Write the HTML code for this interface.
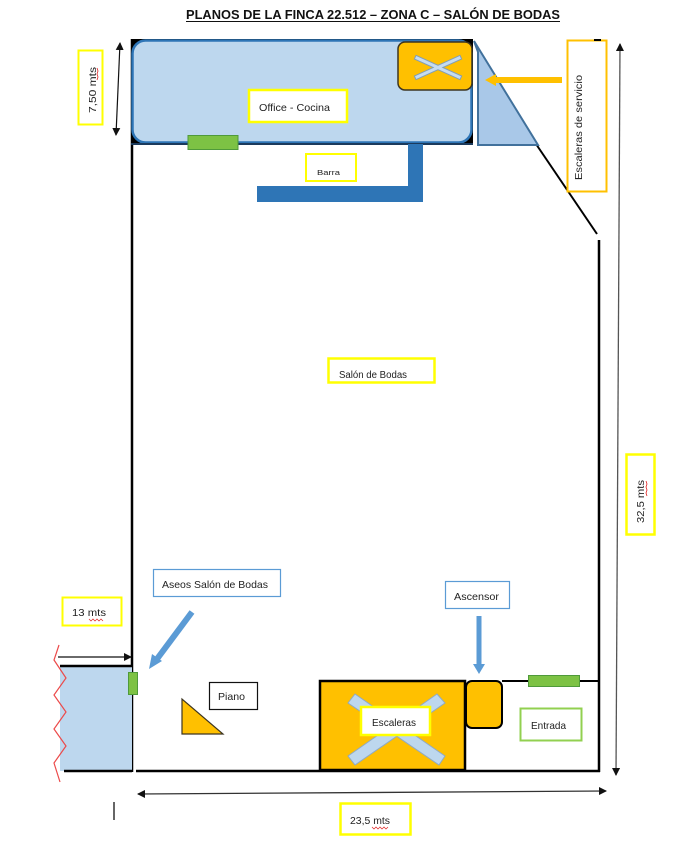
<!DOCTYPE html>
<html><head><meta charset="utf-8"><style>
html,body{margin:0;padding:0;background:#fff;}
svg{display:block;}
text{font-family:"Liberation Sans",sans-serif;fill:#222;}
</style></head><body>
<svg width="678" height="858" viewBox="0 0 678 858" xmlns="http://www.w3.org/2000/svg">
<defs>
<marker id="ah" markerWidth="8" markerHeight="8" refX="7" refY="4" orient="auto" markerUnits="userSpaceOnUse">
<path d="M0,0 L8,4 L0,8 z" fill="#111"/>
</marker>
<marker id="ahs" markerWidth="8" markerHeight="8" refX="7" refY="4" orient="auto-start-reverse" markerUnits="userSpaceOnUse">
<path d="M0,0 L8,4 L0,8 z" fill="#111"/>
</marker>
</defs>

<!-- Title -->
<text x="186" y="19" font-size="12.5" font-weight="bold" textLength="374" lengthAdjust="spacingAndGlyphs" style="fill:#111">PLANOS DE LA FINCA 22.512 – ZONA C – SALÓN DE BODAS</text>
<line x1="186" y1="21.5" x2="560" y2="21.5" stroke="#111" stroke-width="1"/>

<!-- walls -->
<line x1="132" y1="39" x2="132" y2="772" stroke="#000" stroke-width="2.5"/>
<line x1="136" y1="771" x2="600" y2="771" stroke="#000" stroke-width="2.5"/>
<line x1="599" y1="240" x2="599" y2="772" stroke="#000" stroke-width="2.5"/>
<line x1="536" y1="144" x2="597" y2="234" stroke="#000" stroke-width="2"/>

<!-- office -->
<rect x="131" y="39" width="342" height="105" fill="#000" />
<rect x="132.5" y="40.5" width="339" height="102" rx="13" fill="#bdd7ee" stroke="#2e75b6" stroke-width="2.5"/>
<line x1="131" y1="144" x2="473" y2="144" stroke="#1b3a5c" stroke-width="2"/>

<!-- service stairs triangle -->
<polygon points="474,41 538,145 478,145 478,52" fill="#a9c8e8" stroke="#41719c" stroke-width="2"/>

<!-- orange box with X -->
<rect x="398" y="42" width="74" height="48" rx="7" fill="#ffc000" stroke="#3d3520" stroke-width="1.5"/>
<line x1="417" y1="58" x2="459" y2="77" stroke="#7f9db8" stroke-width="5" stroke-linecap="square"/>
<line x1="417" y1="77" x2="459" y2="58" stroke="#7f9db8" stroke-width="5" stroke-linecap="square"/>
<line x1="417" y1="58" x2="459" y2="77" stroke="#c6dcef" stroke-width="3" stroke-linecap="square"/>
<line x1="417" y1="77" x2="459" y2="58" stroke="#c6dcef" stroke-width="3" stroke-linecap="square"/>

<!-- office label -->
<rect x="249" y="90" width="98" height="32" fill="#fff" stroke="#ffff00" stroke-width="2.5"/>
<text x="259" y="111" font-size="10.5" textLength="71" lengthAdjust="spacingAndGlyphs">Office - Cocina</text>

<!-- green door office -->
<rect x="188" y="135.5" width="50" height="14" fill="#7dc244" stroke="#4f9a3a" stroke-width="1"/>

<!-- orange arrow -->
<line x1="562" y1="80" x2="494" y2="80" stroke="#ffc000" stroke-width="6"/>
<polygon points="485,80 496,74 496,86" fill="#ffc000"/>

<!-- escaleras de servicio -->
<rect x="567.5" y="40.5" width="39" height="151" fill="#fff" stroke="#ffc000" stroke-width="2"/>
<line x1="594" y1="40" x2="601" y2="40" stroke="#000" stroke-width="2"/>
<text transform="translate(582,180) rotate(-90)" x="0" y="0" font-size="10" textLength="105" lengthAdjust="spacingAndGlyphs">Escaleras de servicio</text>

<!-- 32,5 arrow -->
<line x1="620" y1="44" x2="616" y2="775" stroke="#555" stroke-width="1.3" marker-start="url(#ahs)" marker-end="url(#ah)"/>
<rect x="626.5" y="454.5" width="28" height="80" fill="#fff" stroke="#ffff00" stroke-width="2.5"/>
<text transform="translate(644,523) rotate(-90)" font-size="10" textLength="43" lengthAdjust="spacingAndGlyphs">32,5 mts</text>
<polyline points="646,481 647,484 646,487 647,490 646,493 647,496" fill="none" stroke="#e02020" stroke-width="0.8"/>

<!-- 7,50 -->
<line x1="120" y1="43" x2="116" y2="135" stroke="#111" stroke-width="1.2" marker-start="url(#ahs)" marker-end="url(#ah)"/>
<rect x="78.5" y="50.5" width="24" height="74" fill="#fff" stroke="#ffff00" stroke-width="2"/>
<text transform="translate(96,113) rotate(-90)" font-size="10" textLength="46" lengthAdjust="spacingAndGlyphs">7,50 mts</text>
<polyline points="97,68 98,71 97,74 98,77 97,80" fill="none" stroke="#e02020" stroke-width="0.8"/>

<!-- barra -->
<rect x="408" y="144" width="15" height="58" fill="#2e75b6"/>
<rect x="257" y="186" width="166" height="16" fill="#2e75b6"/>
<rect x="306" y="154" width="50" height="27" fill="#fff" stroke="#ffff00" stroke-width="2"/>
<text x="317" y="175" font-size="7.5" textLength="23" lengthAdjust="spacingAndGlyphs">Barra</text>

<!-- salon label -->
<rect x="328.5" y="358.5" width="106" height="24" fill="#fff" stroke="#ffff00" stroke-width="2.5"/>
<text x="339" y="378" font-size="10" textLength="68" lengthAdjust="spacingAndGlyphs">Salón de Bodas</text>

<!-- aseos label -->
<rect x="153.5" y="569.5" width="127" height="27" fill="#fff" stroke="#5b9bd5" stroke-width="1.2"/>
<text x="162" y="588" font-size="10.5" textLength="106" lengthAdjust="spacingAndGlyphs">Aseos Salón de Bodas</text>
<line x1="192" y1="612" x2="157" y2="659" stroke="#5b9bd5" stroke-width="6"/>
<polygon points="149,669 152,654 162,661" fill="#5b9bd5"/>

<!-- 13 mts -->
<rect x="62.5" y="597.5" width="59" height="28" fill="#fff" stroke="#ffff00" stroke-width="2"/>
<text x="72" y="616" font-size="10" textLength="34" lengthAdjust="spacingAndGlyphs">13 mts</text>
<polyline points="89,619 91,621 93,619 95,621 97,619 99,621 101,619 103,621" fill="none" stroke="#e02020" stroke-width="0.7"/>
<line x1="58" y1="657" x2="131" y2="657" stroke="#111" stroke-width="1.2" marker-end="url(#ah)"/>

<!-- aseos area -->
<rect x="60" y="666" width="72" height="105" fill="#bdd7ee"/>
<line x1="60" y1="666" x2="132" y2="666" stroke="#000" stroke-width="2.5"/>
<line x1="64" y1="771" x2="132" y2="771" stroke="#000" stroke-width="2.5"/>
<polyline points="59,645 54,660 66,678 54,695 66,712 54,729 66,746 54,763 60,782" fill="none" stroke="#ec4a4a" stroke-width="1.2"/>

<!-- green door left -->
<rect x="128.5" y="672.5" width="9" height="22" fill="#7dc244" stroke="#4f9a3a" stroke-width="1"/>

<!-- piano -->
<polygon points="182,699 182,734 223,734" fill="#ffc000" stroke="#3d3520" stroke-width="1.2"/>
<rect x="209.5" y="682.5" width="48" height="27" fill="#fff" stroke="#111" stroke-width="1.2"/>
<text x="218" y="700" font-size="10.5" textLength="27" lengthAdjust="spacingAndGlyphs">Piano</text>

<!-- escaleras -->
<rect x="320" y="681" width="145" height="89" fill="#ffc000" stroke="#000" stroke-width="2.5"/>
<g fill="#bdd7ee" stroke="#8eaac4" stroke-width="1">
<polygon points="355,694 445,756 439,765 348,703"/>
<polygon points="437,694 445,703 355,765 348,756"/>
</g>
<rect x="361" y="707" width="69" height="28" fill="#fff" stroke="#ffff00" stroke-width="2.5"/>
<text x="372" y="726" font-size="10.5" textLength="44" lengthAdjust="spacingAndGlyphs">Escaleras</text>

<!-- ascensor -->
<rect x="466" y="681" width="36" height="47" rx="6" fill="#ffc000" stroke="#000" stroke-width="2"/>
<rect x="445.5" y="581.5" width="64" height="27" fill="#fff" stroke="#5b9bd5" stroke-width="1.2"/>
<text x="454" y="600" font-size="10.5" textLength="45" lengthAdjust="spacingAndGlyphs">Ascensor</text>
<line x1="479" y1="616" x2="479" y2="665" stroke="#5b9bd5" stroke-width="5"/>
<polygon points="473,664 485,664 479,674" fill="#5b9bd5"/>

<!-- entrada -->
<line x1="502" y1="681" x2="600" y2="681" stroke="#000" stroke-width="2"/>
<rect x="528.5" y="675.5" width="51" height="11" fill="#7dc244" stroke="#4f9a3a" stroke-width="1"/>
<rect x="520.5" y="708.5" width="61" height="32" fill="#fff" stroke="#92d050" stroke-width="2"/>
<text x="531" y="729" font-size="10.5" textLength="35" lengthAdjust="spacingAndGlyphs">Entrada</text>

<!-- 23,5 arrow -->
<line x1="138" y1="794" x2="606" y2="791" stroke="#333" stroke-width="1.3" marker-start="url(#ahs)" marker-end="url(#ah)"/>
<line x1="114" y1="802" x2="114" y2="820" stroke="#000" stroke-width="1.2"/>
<rect x="340.5" y="803.5" width="70" height="31" fill="#fff" stroke="#ffff00" stroke-width="2.5"/>
<text x="350" y="824" font-size="10" textLength="40" lengthAdjust="spacingAndGlyphs">23,5 mts</text>
<polyline points="372,827 374,829 376,827 378,829 380,827 382,829 384,827 386,829 388,827" fill="none" stroke="#e02020" stroke-width="0.7"/>
</svg>
</body></html>
